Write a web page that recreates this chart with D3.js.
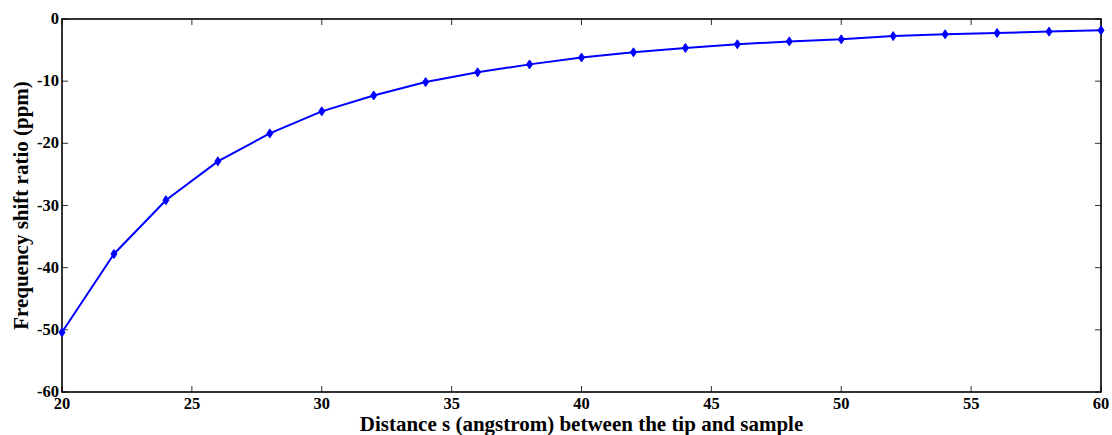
<!DOCTYPE html>
<html><head><meta charset="utf-8">
<script src="https://cdn.jsdelivr.net/npm/d3@7"></script>
<style>body{margin:0;background:#fff}svg{display:block}</style>
</head><body>
<script>
const distances = [20,22,24,26,28,30,32,34,36,38,40,42,44,46,48,50,52,54,56,58,60];
const shiftRatio = [-50.4,-37.8,-29.15,-22.9,-18.4,-14.85,-12.3,-10.15,-8.57,-7.3,-6.2,-5.36,-4.66,-4.07,-3.6,-3.27,-2.75,-2.46,-2.25,-2.03,-1.82];
const xTicks = [20,25,30,35,40,45,50,55,60];
const yTicks = [0,-10,-20,-30,-40,-50,-60];
const xTitle = "Distance s (angstrom) between the tip and sample";
const yTitle = "Frequency shift ratio (ppm)";

const W=1112,H=435;
const m={l:62,r:11,t:19,b:43};
const svg=d3.select("body").append("svg").attr("width",W).attr("height",H);
const x=d3.scaleLinear().domain([20,60]).range([m.l,W-m.r]);
const y=d3.scaleLinear().domain([-60,0]).range([H-m.b,m.t]);
const font="'Liberation Serif','Times New Roman',serif";
const tl=6;

const g=svg.append("g");
xTicks.forEach(v=>{
  g.append("line").attr("x1",x(v)).attr("x2",x(v)).attr("y1",y(-60)).attr("y2",y(-60)-tl).attr("stroke","#333");
  g.append("line").attr("x1",x(v)).attr("x2",x(v)).attr("y1",y(0)).attr("y2",y(0)+tl).attr("stroke","#333");
  g.append("text").attr("x",x(v)).attr("y",y(-60)+17).attr("text-anchor","middle")
   .attr("font-family",font).attr("font-weight","bold").attr("font-size",16.5).text(v);
});
yTicks.forEach(v=>{
  g.append("line").attr("x1",x(20)).attr("x2",x(20)+tl).attr("y1",y(v)).attr("y2",y(v)).attr("stroke","#333");
  g.append("line").attr("x1",x(60)).attr("x2",x(60)-tl).attr("y1",y(v)).attr("y2",y(v)).attr("stroke","#333");
  g.append("text").attr("x",x(20)-3).attr("y",y(v)+5).attr("text-anchor","end")
   .attr("font-family",font).attr("font-weight","bold").attr("font-size",16.5).text(v);
});
svg.append("rect").attr("x",x(20)).attr("y",y(0)).attr("width",x(60)-x(20)).attr("height",y(-60)-y(0))
  .attr("fill","none").attr("stroke","#000").attr("stroke-width",1.6);

const data=distances.map((d,i)=>[d,shiftRatio[i]]);
svg.append("path").datum(data).attr("fill","none").attr("stroke","#0000ff").attr("stroke-width",2)
  .attr("d",d3.line().x(d=>x(d[0])).y(d=>y(d[1])));
svg.selectAll(".mk").data(data).enter().append("path")
  .attr("transform",d=>`translate(${x(d[0])},${y(d[1])})`)
  .attr("d","M0,-4.5L3,0L0,4.5L-3,0Z").attr("fill","#0000ff").attr("stroke","#0000ff").attr("stroke-width",1);

svg.append("text").attr("x",(x(20)+x(60))/2).attr("y",H-4).attr("text-anchor","middle")
  .attr("font-family",font).attr("font-weight","bold").attr("font-size",21).text(xTitle);
svg.append("text").attr("transform",`translate(28,${(y(0)+y(-60))/2}) rotate(-90)`).attr("text-anchor","middle")
  .attr("font-family",font).attr("font-weight","bold").attr("font-size",21).text(yTitle);
</script>
</body></html>
